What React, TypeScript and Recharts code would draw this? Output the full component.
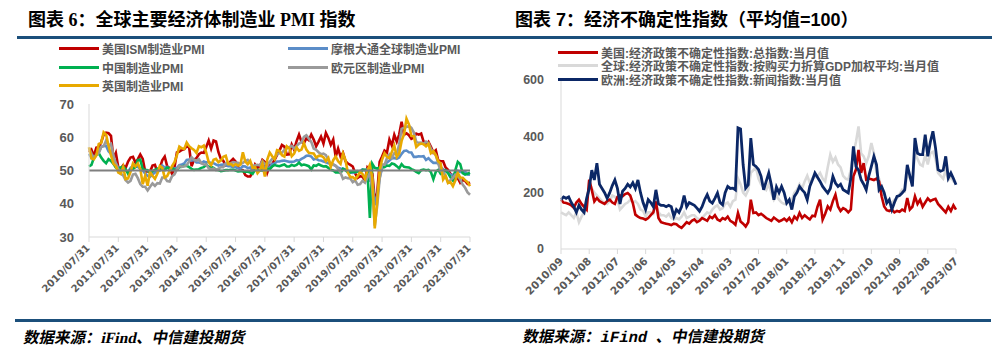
import { LineChart, Line, XAxis, YAxis, ReferenceLine } from 'recharts';

// ---- 图表6：制造业PMI，2010/07 - 2023/07 月度 ----
const usIsm = [
  55.5, 56.3, 54.4, 56.9, 57.0, 58.5,
  60.8, 61.4, 61.2, 60.4, 53.5, 55.3, 50.9, 50.6, 51.6, 50.8, 52.7, 53.9,
  54.1, 52.4, 53.4, 54.8, 53.5, 49.7, 49.8, 49.6, 51.5, 51.7, 49.5, 50.7,
  53.1, 54.2, 51.3, 50.7, 49.0, 50.9, 55.4, 55.7, 56.2, 56.4, 57.3, 57.0,
  51.3, 53.2, 53.7, 54.9, 55.4, 55.3, 57.1, 59.0, 56.6, 59.0, 58.7, 55.5,
  53.5, 52.9, 51.5, 51.5, 52.8, 53.5, 52.7, 51.1, 50.2, 50.1, 48.6, 48.2,
  48.2, 49.5, 51.8, 50.8, 51.3, 53.2, 52.6, 49.4, 51.5, 51.9, 53.2, 54.7,
  56.0, 57.7, 57.2, 54.8, 54.9, 57.8, 56.3, 58.8, 60.8, 58.7, 58.2, 59.7,
  59.1, 60.8, 59.3, 57.3, 58.7, 60.2, 58.1, 61.3, 59.8, 57.7, 59.3, 54.1,
  56.6, 54.2, 55.3, 52.8, 52.1, 51.7, 51.2, 49.1, 47.8, 48.3, 48.1, 47.2,
  50.9, 50.1, 49.1, 41.5, 43.1, 52.6, 54.2, 56.0, 55.4, 59.3, 57.5, 60.7,
  58.7, 60.8, 64.7, 60.7, 61.2, 60.6, 59.5, 59.9, 61.1, 60.8, 61.1, 58.7,
  57.6, 58.6, 57.1, 55.4, 56.1, 53.0, 52.8, 52.8, 50.9, 50.2, 49.0, 48.4,
  47.4, 47.7, 46.3, 47.1, 46.9, 46.0, 46.4,
];

const jpmGlobal = [
  55.0, 53.8, 53.9, 54.8, 55.5, 57.1,
  57.4, 57.4, 55.8, 55.0, 53.1, 52.2, 50.7, 50.1, 49.9, 50.0, 49.6, 50.8,
  51.3, 51.2, 51.1, 50.5, 50.0, 49.1, 48.4, 48.1, 48.8, 49.4, 49.6, 50.0,
  51.5, 50.9, 51.1, 50.4, 50.6, 50.6, 50.8, 51.6, 51.8, 52.1, 53.2, 53.3,
  53.0, 53.2, 52.4, 52.4, 52.2, 52.7, 52.4, 52.6, 52.2, 52.2, 51.8, 51.5,
  51.7, 51.8, 51.6, 51.3, 51.3, 51.0, 51.0, 50.7, 50.6, 51.3, 51.2, 50.7,
  50.9, 50.0, 50.5, 50.1, 50.0, 50.4, 51.0, 50.8, 51.0, 52.0, 52.1, 52.7,
  52.7, 52.9, 53.0, 52.8, 52.6, 52.6, 52.7, 53.1, 53.0, 53.5, 53.9, 54.4,
  54.5, 54.2, 53.3, 53.5, 53.1, 53.0, 52.7, 52.5, 52.2, 52.0, 51.8, 51.4,
  50.8, 50.6, 50.5, 50.3, 49.8, 49.4, 49.3, 49.5, 49.7, 49.8, 50.3, 50.1,
  50.4, 47.1, 47.6, 39.6, 42.4, 47.8, 50.6, 51.8, 52.4, 53.0, 53.7, 53.8,
  53.5, 53.9, 55.0, 55.9, 56.0, 55.5, 55.4, 54.1, 54.1, 54.3, 54.2, 54.3,
  53.2, 53.7, 52.9, 52.3, 52.3, 52.2, 51.1, 50.3, 49.8, 49.4, 48.8, 48.7,
  49.1, 49.9, 49.6, 49.6, 49.6, 48.8, 48.7,
];

const chinaPmi = [
  51.2, 51.7, 53.8, 54.7, 55.2, 53.9,
  52.9, 52.2, 53.4, 52.9, 52.0, 50.9, 50.7, 50.9, 51.2, 50.4, 49.0, 50.3,
  50.5, 51.0, 53.1, 53.3, 50.4, 50.2, 50.1, 49.2, 49.8, 50.2, 50.6, 50.6,
  50.4, 50.1, 50.9, 50.6, 50.8, 50.1, 50.3, 51.0, 51.1, 51.4, 51.4, 51.0,
  50.5, 50.2, 50.3, 50.4, 50.8, 51.0, 51.7, 51.1, 51.1, 50.8, 50.3, 50.1,
  49.8, 49.9, 50.1, 50.1, 50.2, 50.2, 50.0, 49.7, 49.8, 49.8, 49.6, 49.7,
  49.4, 49.0, 50.2, 50.1, 50.1, 50.0, 49.9, 50.4, 50.4, 51.2, 51.7, 51.4,
  51.3, 51.6, 51.8, 51.2, 51.2, 51.7, 51.4, 51.7, 52.4, 51.6, 51.8, 51.6,
  51.3, 50.3, 51.5, 51.4, 51.9, 51.5, 51.2, 51.3, 50.8, 50.2, 50.0, 49.4,
  49.5, 49.2, 50.5, 50.1, 49.4, 49.4, 49.7, 49.5, 49.8, 49.3, 50.2, 50.2,
  50.0, 35.7, 52.0, 50.8, 50.6, 50.9, 51.1, 51.0, 51.5, 51.4, 52.1, 51.9,
  51.3, 50.6, 51.9, 51.1, 51.0, 50.9, 50.4, 50.1, 49.6, 49.2, 50.1, 50.3,
  50.1, 50.2, 49.5, 47.4, 49.6, 50.2, 49.0, 49.4, 50.1, 49.2, 48.0, 47.0,
  50.1, 52.6, 51.9, 49.2, 48.8, 49.0, 49.3,
];

const euroPmi = [
  56.7, 55.1, 53.7, 54.6, 55.3, 57.1,
  57.3, 59.0, 57.5, 58.0, 54.6, 52.0, 50.4, 49.0, 48.5, 47.1, 46.4, 46.9,
  48.8, 49.0, 47.7, 45.9, 45.1, 45.1, 44.0, 45.1, 46.1, 45.4, 46.2, 46.1,
  47.9, 47.9, 46.8, 46.7, 48.3, 48.8, 50.3, 51.4, 51.1, 51.3, 51.6, 52.7,
  54.0, 53.2, 53.0, 53.4, 52.2, 51.8, 51.8, 50.7, 50.3, 50.6, 50.1, 50.6,
  51.0, 51.0, 52.2, 52.0, 52.2, 52.5, 52.4, 52.3, 52.0, 52.3, 52.8, 53.2,
  52.3, 51.2, 51.6, 51.7, 51.5, 52.8, 52.0, 51.7, 52.6, 53.5, 53.7, 54.9,
  55.2, 55.4, 56.2, 56.7, 57.0, 57.4, 56.6, 57.4, 58.1, 58.5, 60.1, 60.6,
  59.6, 58.6, 56.6, 56.2, 55.5, 54.9, 55.1, 54.6, 53.2, 52.0, 51.8, 51.4,
  50.5, 49.3, 47.5, 47.9, 47.7, 47.6, 46.5, 47.0, 45.7, 45.9, 46.9, 46.3,
  47.9, 49.2, 44.5, 33.4, 39.4, 47.4, 51.8, 51.7, 53.7, 54.8, 53.8, 55.2,
  54.8, 57.9, 62.5, 62.9, 63.1, 63.4, 62.8, 61.4, 58.6, 58.3, 58.4, 58.0,
  58.7, 58.2, 56.5, 55.5, 54.6, 52.1, 49.8, 49.6, 48.4, 46.4, 47.1, 47.8,
  48.8, 48.5, 47.3, 45.8, 44.8, 43.4, 42.7,
];

const ukPmi = [
  57.0, 53.6, 53.4, 54.6, 58.0, 58.3,
  61.5, 60.8, 57.5, 54.6, 52.1, 51.3, 49.4, 49.0, 51.1, 47.4, 47.6, 49.6,
  52.1, 51.2, 52.1, 50.5, 45.9, 48.4, 45.4, 49.6, 48.4, 47.5, 49.1, 51.4,
  50.8, 47.9, 48.3, 49.8, 51.3, 52.5, 54.6, 57.2, 56.7, 56.5, 58.4, 57.3,
  56.7, 56.2, 55.3, 57.3, 57.0, 57.5, 55.4, 52.5, 51.6, 53.2, 53.5, 52.5,
  53.0, 54.1, 54.4, 51.9, 52.0, 51.4, 51.9, 51.5, 51.8, 55.5, 52.7, 51.9,
  52.9, 50.8, 51.0, 49.2, 50.1, 52.1, 48.2, 53.3, 55.4, 54.3, 53.4, 56.1,
  55.9, 54.6, 54.2, 57.3, 56.7, 54.3, 55.1, 56.9, 55.9, 56.3, 58.2, 56.3,
  55.3, 55.2, 55.1, 53.9, 54.4, 54.4, 54.0, 52.8, 53.8, 51.1, 53.1, 54.2,
  52.8, 52.0, 55.1, 53.1, 49.4, 48.0, 48.0, 47.4, 48.3, 49.6, 48.9, 47.5,
  50.0, 51.7, 47.8, 32.6, 40.7, 50.1, 53.3, 55.2, 54.1, 53.7, 55.6, 57.5,
  54.1, 55.1, 58.9, 60.9, 65.6, 63.9, 60.4, 60.3, 57.1, 57.8, 58.1, 57.9,
  57.3, 58.0, 55.2, 55.8, 54.6, 52.8, 52.1, 47.3, 48.4, 46.2, 46.5, 45.3,
  47.0, 49.3, 47.9, 47.8, 47.1, 46.5, 45.3,
];

// ---- 图表7：经济政策不确定性指数，2010/09 - 2023/07 月度 ----
const usEpu = [
  175, 165, 163, 160,
  155, 146, 165, 175, 160, 150, 140, 246, 210, 169, 181, 170,
  165, 160, 170, 175, 165, 160, 185, 190, 187, 195, 199, 190,
  163, 122, 115, 110, 108, 104, 110, 120, 130, 169, 110, 95,
  92, 90, 88, 85, 90, 88, 80, 75, 85, 95, 90, 100,
  105, 95, 100, 110, 105, 100, 115, 110, 120, 105, 100, 110,
  105, 115, 100, 95, 86, 128, 98, 90, 80, 95, 175, 128,
  130, 120, 125, 118, 110, 105, 100, 112, 105, 98, 102, 108,
  100, 110, 95, 115, 105, 128, 110, 120, 112, 105, 118, 116,
  150, 175, 104, 125, 151, 140, 170, 193, 151, 135, 145, 140,
  130, 140, 258, 282, 352, 270, 305, 246, 250, 248, 245, 250,
  240, 187, 151, 138, 135, 140, 130, 135, 132, 140, 135, 181,
  140, 150, 187, 160, 175, 150, 165, 180, 170, 175, 178, 160,
  150, 140, 130, 150, 135, 155, 140,
];

const globalEpu = [
  130, 125, 120, 130,
  120, 110, 130, 95, 115, 130, 150, 240, 215, 200, 190, 180,
  170, 165, 160, 170, 190, 185, 175, 140, 150, 160, 165, 175,
  165, 170, 160, 140, 135, 116, 130, 130, 125, 163, 130, 120,
  120, 115, 125, 110, 105, 110, 105, 115, 130, 110, 115, 120,
  120, 110, 104, 110, 120, 130, 125, 140, 150, 155, 140, 145,
  160, 165, 150, 170, 175, 250, 230, 200, 190, 210, 270, 280,
  290, 250, 230, 220, 210, 230, 200, 175, 190, 175, 165, 160,
  160, 170, 175, 200, 210, 230, 215, 240, 260, 235, 250, 255,
  260, 270, 250, 240, 290, 335, 310, 325, 300, 290, 260, 250,
  246, 282, 340, 380, 435, 340, 329, 305, 330, 376, 340, 270,
  250, 210, 190, 175, 170, 165, 175, 180, 195, 210, 205, 270,
  250, 240, 340, 320, 300, 295, 335, 300, 340, 345, 320, 270,
  260, 250, 280, 245, 255, 240, 235,
];

const europeEpu = [
  175, 185, 180, 185,
  165, 150, 130, 155, 140, 130, 180, 215, 280, 245, 305, 230,
  215, 200, 180, 200, 225, 245, 215, 160, 205, 215, 230, 220,
  235, 215, 245, 200, 165, 140, 175, 165, 150, 210, 160, 155,
  155, 150, 155, 150, 116, 140, 130, 150, 190, 150, 165, 160,
  155, 145, 134, 150, 175, 193, 170, 163, 180, 199, 165, 157,
  200, 222, 215, 216, 210, 430, 426, 300, 216, 228, 394, 300,
  293, 282, 258, 210, 240, 270, 228, 175, 220, 200, 222, 200,
  163, 175, 140, 187, 200, 222, 210, 200, 175, 222, 245, 270,
  255, 240, 222, 210, 199, 215, 258, 234, 222, 230, 210, 205,
  199, 250, 364, 293, 280, 246, 230, 210, 260, 293, 329, 300,
  210, 222, 200, 163, 175, 140, 165, 187, 190, 199, 210, 299,
  260, 222, 394, 340, 335, 335, 406, 329, 380, 418, 360, 282,
  276, 280, 329, 252, 270, 250, 228,
];

const pmiTicks = [30, 40, 50, 60, 70];
const epuTicks = [0, 200, 400, 600];

const pad = (n: number) => (n < 10 ? '0' + n : '' + n);

function monthEnds(y: number, m: number, n: number) {
  const out: string[] = [];
  for (let i = 0; i < n; i++) {
    const yy = y + Math.floor((m - 1 + i) / 12);
    const mm = ((m - 1 + i) % 12) + 1;
    const last = new Date(yy, mm, 0).getDate();
    out.push(`${yy}/${pad(mm)}/${last}`);
  }
  return out;
}

function months(y: number, m: number, n: number) {
  const out: string[] = [];
  for (let i = 0; i < n; i++) {
    const yy = y + Math.floor((m - 1 + i) / 12);
    const mm = ((m - 1 + i) % 12) + 1;
    out.push(`${yy}/${pad(mm)}`);
  }
  return out;
}

const pmiDates = monthEnds(2010, 7, usIsm.length);
const epuMonths = months(2010, 9, usEpu.length);

const pmiData = pmiDates.map((d, i) => ({
  date: d,
  us: usIsm[i],
  jpm: jpmGlobal[i],
  cn: chinaPmi[i],
  eu: euroPmi[i],
  uk: ukPmi[i],
}));

const epuData = epuMonths.map((d, i) => ({
  date: d,
  us: usEpu[i],
  global: globalEpu[i],
  europe: europeEpu[i],
}));

const C = {
  red: '#C00000',
  blue: '#5B8DC8',
  green: '#00B050',
  gray: '#9A9A9A',
  yellow: '#E8A900',
  light: '#D9D9D9',
  navy: '#0B2766',
  rule: '#1B4F7B',
  text: '#595959',
};

const SANS = "'Liberation Sans', 'Noto Sans CJK SC', sans-serif";

function SlantTick(props: any) {
  const { x, y, payload, fontSize, ox, oy } = props;
  const tx = x + ox;
  const ty = y + oy;
  return (
    <text
      x={tx}
      y={ty}
      transform={`rotate(-45 ${tx} ${ty})`}
      textAnchor="end"
      dominantBaseline="central"
      fontSize={fontSize}
      fontFamily="'DejaVu Sans', sans-serif"
      fontWeight="bold"
      fill={C.text}
    >
      {payload.value}
    </text>
  );
}

function LegendItem({ x, y, color, label, size }: any) {
  return (
    <div style={{ position: 'absolute', left: x, top: y - 8, height: 16, display: 'flex', alignItems: 'center' }}>
      <div style={{ width: 40, height: 3, background: color, marginRight: 3 }} />
      <span style={{ fontSize: size, fontWeight: 'bold', color: C.text, fontFamily: SANS, whiteSpace: 'nowrap' }}>{label}</span>
    </div>
  );
}

// 斜体来源说明（中文字体没有斜体，用 skew 模拟）
function Source({ x, text, family }: any) {
  return (
    <div
      style={{
        position: 'absolute', left: x, top: 328, fontSize: 15.5, lineHeight: '20px', fontWeight: 'bold',
        whiteSpace: 'nowrap', fontFamily: family, transform: 'skewX(-12deg)', transformOrigin: 'left bottom',
      }}
    >
      {text}
    </div>
  );
}

export default function App() {
  return (
    <div style={{ position: 'absolute', left: 0, top: 0, width: 1002, height: 362, background: '#fff', overflow: 'hidden' }}>
      {/* 标题 */}
      <div style={{ position: 'absolute', left: 28, top: 9, fontSize: 18, lineHeight: '22px', fontWeight: 'bold', color: '#000', whiteSpace: 'nowrap', fontFamily: "'Liberation Serif', 'Noto Sans CJK SC', serif" }}>
        图表 6：全球主要经济体制造业 PMI 指数
      </div>
      <div style={{ position: 'absolute', left: 515, top: 9, fontSize: 18, lineHeight: '22px', fontWeight: 'bold', color: '#000', whiteSpace: 'nowrap', fontFamily: SANS }}>
        图表 7：经济不确定性指数（平均值=100）
      </div>
      <div style={{ position: 'absolute', left: 17, top: 36, width: 483, height: 3, background: C.rule }} />
      <div style={{ position: 'absolute', left: 500, top: 36, width: 492, height: 3, background: C.rule }} />

      {/* 左图 */}
      <div style={{ position: 'absolute', left: 0, top: 0 }}>
        <LineChart width={500} height={320} data={pmiData} margin={{ top: 104, right: 30, left: 0, bottom: 0 }}>
          <XAxis
            dataKey="date"
            interval={11}
            height={83}
            axisLine={{ stroke: C.light }}
            tickLine={{ stroke: C.light }}
            tickSize={5}
            tick={(p: any) => <SlantTick {...p} fontSize={10} ox={-1} oy={2} />}
          />
          <YAxis
            width={89}
            domain={[30, 70]}
            ticks={pmiTicks}
            interval={0}
            axisLine={{ stroke: C.light }}
            tickLine={false}
            tickMargin={9}
            tick={{ fill: C.text, fontSize: 13, fontWeight: 'bold', fontFamily: SANS }}
          />
          <Line dataKey="us" stroke={C.red} strokeWidth={2.6} dot={false} isAnimationActive={false} />
          <Line dataKey="jpm" stroke={C.blue} strokeWidth={2.6} dot={false} isAnimationActive={false} />
          <Line dataKey="cn" stroke={C.green} strokeWidth={2.6} dot={false} isAnimationActive={false} />
          <Line dataKey="eu" stroke={C.gray} strokeWidth={2.6} dot={false} isAnimationActive={false} />
          <Line dataKey="uk" stroke={C.yellow} strokeWidth={2.6} dot={false} isAnimationActive={false} />
          <ReferenceLine y={50} stroke="#7F7F7F" strokeWidth={2} />
        </LineChart>
      </div>
      <LegendItem x={59} y={48} color={C.red} label="美国ISM制造业PMI" size={12} />
      <LegendItem x={288} y={48} color={C.blue} label="摩根大通全球制造业PMI" size={12} />
      <LegendItem x={59} y={67} color={C.green} label="中国制造业PMI" size={12} />
      <LegendItem x={288} y={67} color={C.gray} label="欧元区制造业PMI" size={12} />
      <LegendItem x={59} y={85} color={C.yellow} label="英国制造业PMI" size={12} />

      {/* 右图 */}
      <div style={{ position: 'absolute', left: 500, top: 0 }}>
        <LineChart width={502} height={320} data={epuData} margin={{ top: 80, right: 46, left: 0, bottom: 0 }}>
          <XAxis
            dataKey="date"
            interval={10}
            height={71}
            axisLine={{ stroke: C.light }}
            tickLine={{ stroke: C.light }}
            tickSize={5}
            tick={(p: any) => <SlantTick {...p} fontSize={10.5} ox={0} oy={3} />}
          />
          <YAxis
            width={61}
            domain={[0, 600]}
            ticks={epuTicks}
            interval={0}
            axisLine={{ stroke: C.light }}
            tickLine={false}
            tickMargin={11}
            tick={{ fill: C.text, fontSize: 12.5, fontWeight: 'bold', fontFamily: SANS }}
          />
          <Line dataKey="global" stroke={C.light} strokeWidth={2.6} dot={false} isAnimationActive={false} />
          <Line dataKey="us" stroke={C.red} strokeWidth={2.6} dot={false} isAnimationActive={false} />
          <Line dataKey="europe" stroke={C.navy} strokeWidth={2.8} dot={false} isAnimationActive={false} />
        </LineChart>
      </div>
      <LegendItem x={558} y={52} color={C.red} label="美国:经济政策不确定性指数:总指数:当月值" size={12} />
      <LegendItem x={558} y={65} color={C.light} label="全球:经济政策不确定性指数:按购买力折算GDP加权平均:当月值" size={12} />
      <LegendItem x={558} y={79} color={C.navy} label="欧洲:经济政策不确定性指数:新闻指数:当月值" size={12} />

      {/* 底部 */}
      <div style={{ position: 'absolute', left: 15, top: 319, width: 485, height: 3, background: C.rule }} />
      <div style={{ position: 'absolute', left: 500, top: 319, width: 491, height: 3, background: C.rule }} />
      <Source x={22} text="数据来源：iFind、中信建投期货" family="'Liberation Serif', 'Noto Sans CJK SC', serif" />
      <Source x={521} text="数据来源：iFind 、中信建投期货" family="'Liberation Mono', 'Noto Sans CJK SC', monospace" />
    </div>
  );
}
